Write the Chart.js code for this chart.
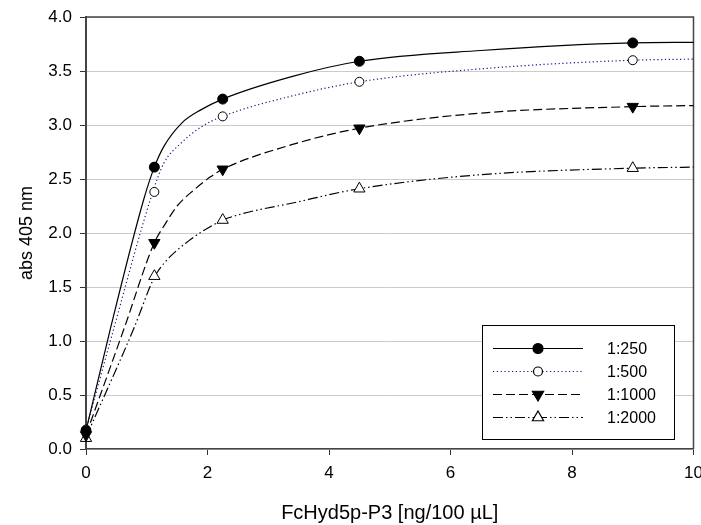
<!DOCTYPE html>
<html>
<head>
<meta charset="utf-8">
<title>abs 405 nm</title>
<script src="https://cdn.jsdelivr.net/npm/chart.js@4.4.0/dist/chart.umd.min.js"></script>
<style>
  html, body { margin: 0; background: #fff; }
  canvas { display: block; }
</style>
</head>
<body>
<canvas id="abs-chart" width="701" height="525"></canvas>
<script>
// measured points (dilution series)
const doses = [0, 1.125, 2.25, 4.5, 9];
const abs250 = [0.17, 2.61, 3.24, 3.59, 3.76];
const abs500 = [0.18, 2.38, 3.08, 3.40, 3.60];
const abs1000 = [0.13, 1.91, 2.59, 2.97, 3.17];
const abs2000 = [0.10, 1.60, 2.12, 2.41, 2.60];

// fitted curves
const fitX250 = [0, 0.4, 0.95, 1.125, 1.28, 1.58, 1.89, 2.25, 3.4, 4.5, 6.5, 9, 10];
const fit250 = [0.17, 1.11, 2.31, 2.61, 2.80, 3.02, 3.14, 3.24, 3.45, 3.59, 3.69, 3.76, 3.765];
const fitX500 = [0, 0.46, 1.06, 1.28, 1.56, 1.89, 2.25, 3.4, 4.5, 6.5, 9, 10];
const fit500 = [0.18, 1.12, 2.31, 2.645, 2.83, 2.98, 3.08, 3.27, 3.40, 3.52, 3.60, 3.61];
const fitX1000 = [0, 0.63, 1.125, 1.3, 1.5, 1.78, 2.05, 2.25, 3.4, 4.5, 6.5, 9, 10];
const fit1000 = [0.13, 1.12, 1.91, 2.08, 2.25, 2.40, 2.52, 2.59, 2.82, 2.97, 3.11, 3.17, 3.18];
const fitX2000 = [0, 0.79, 1.125, 1.3, 1.72, 2.08, 2.25, 3.5, 4.5, 6.5, 9, 10];
const fit2000 = [0.11, 1.12, 1.59, 1.73, 1.94, 2.07, 2.12, 2.29, 2.41, 2.54, 2.60, 2.61];

const seriesNames = ['1:250', '1:500', '1:1000', '1:2000'];
const xTitle = 'FcHyd5p-P3 [ng/100 µL]';
const yTitle = 'abs 405 nm';

const FONT = 'Arial, "Liberation Sans", sans-serif';

const measured = [abs250, abs500, abs1000, abs2000];
const fitXs = [fitX250, fitX500, fitX1000, fitX2000];
const fits = [fit250, fit500, fit1000, fit2000];

// line + marker look for each dilution
const looks = [
  { line: '#000', dash: [], marker: { pointStyle: 'circle', radius: 5, rotation: 0, fill: '#000' } },
  { line: '#14148c', dash: [1.2, 2.6], marker: { pointStyle: 'circle', radius: 4.5, rotation: 0, fill: '#fff' } },
  { line: '#000', dash: [9, 4], marker: { pointStyle: 'triangle', radius: 6.5, rotation: 180, fill: '#000' } },
  { line: '#000', dash: [10, 3, 1.5, 3, 1.5, 3], marker: { pointStyle: 'triangle', radius: 6.5, rotation: 0, fill: '#fff' } }
];

const pairs = (xs, ys) => xs.map((x, i) => ({ x: x, y: ys[i] }));

const datasets = [];
seriesNames.forEach((name, i) => {
  const lk = looks[i];
  datasets.push({
    label: name + ' fit',
    data: pairs(fitXs[i], fits[i]),
    showLine: true,
    borderColor: lk.line,
    borderWidth: 1.2,
    borderDash: lk.dash,
    pointRadius: 0,
    cubicInterpolationMode: 'monotone',
    clip: false,
    order: 1
  });
  datasets.push({
    label: name,
    data: pairs(doses, measured[i]),
    showLine: false,
    pointStyle: lk.marker.pointStyle,
    pointRadius: lk.marker.radius,
    pointRotation: lk.marker.rotation,
    pointBackgroundColor: lk.marker.fill,
    pointBorderColor: '#000',
    pointBorderWidth: 1,
    clip: false,
    order: 0
  });
});

// top/right frame lines of the plot box
const frame = {
  id: 'frame',
  beforeDatasetsDraw(chart) {
    const { ctx, chartArea: a } = chart;
    ctx.save();
    ctx.strokeStyle = '#444';
    ctx.lineWidth = 1.5;
    ctx.beginPath();
    ctx.moveTo(a.left, a.top);
    ctx.lineTo(a.right, a.top);
    ctx.lineTo(a.right, a.bottom);
    ctx.stroke();
    ctx.restore();
  }
};

// boxed legend in the lower right corner
const boxLegend = {
  id: 'boxLegend',
  afterDraw(chart) {
    const ctx = chart.ctx;
    const bx = 482, by = 325, bw = 192, bh = 114;
    ctx.save();
    ctx.fillStyle = '#fff';
    ctx.fillRect(bx, by, bw, bh);
    ctx.strokeStyle = '#000';
    ctx.lineWidth = 1;
    ctx.strokeRect(bx + 0.5, by + 0.5, bw, bh);
    seriesNames.forEach((name, i) => {
      const lk = looks[i];
      const y = by + 23.5 + i * 23;
      ctx.strokeStyle = lk.line;
      ctx.lineWidth = 1.2;
      ctx.setLineDash(lk.dash);
      ctx.beginPath();
      ctx.moveTo(493, y);
      ctx.lineTo(583, y);
      ctx.stroke();
      ctx.setLineDash([]);
      ctx.fillStyle = lk.marker.fill;
      ctx.strokeStyle = '#000';
      Chart.helpers.drawPoint(ctx, {
        pointStyle: lk.marker.pointStyle,
        radius: lk.marker.radius,
        rotation: lk.marker.rotation,
        borderWidth: 1
      }, 538, y);
      ctx.fillStyle = '#000';
      ctx.font = '16px ' + FONT;
      ctx.textBaseline = 'middle';
      ctx.textAlign = 'left';
      ctx.fillText(name, 607, y + 1);
    });
    ctx.restore();
  }
};

const context = document.getElementById('abs-chart').getContext('2d');
const chart = new Chart(context, {
  type: 'scatter',
  data: { datasets },
  options: {
    responsive: false,
    animation: false,
    devicePixelRatio: 1,
    layout: { padding: { top: 17, right: 7, left: 0, bottom: 0 } },
    plugins: { legend: { display: false }, tooltip: { enabled: false } },
    scales: {
      x: {
        type: 'linear',
        min: 0,
        max: 10,
        ticks: { stepSize: 2, color: '#000', padding: 8, font: { family: FONT, size: 17 } },
        grid: { drawOnChartArea: false, drawTicks: true, tickLength: 6, tickColor: '#333' },
        border: { color: '#444', width: 1.5 },
        title: { display: true, text: xTitle, color: '#000', font: { family: FONT, size: 20 }, padding: { top: 0, bottom: 0 } },
        afterFit(s) { s.height = 76; s.paddingLeft = 0; s.paddingRight = 0; }
      },
      y: {
        type: 'linear',
        min: 0,
        max: 4,
        ticks: { stepSize: 0.5, color: '#000', padding: 8, font: { family: FONT, size: 17 }, callback: v => v.toFixed(1) },
        grid: { color: '#cbcbcb', lineWidth: 1, tickLength: 6, tickColor: '#333' },
        border: { color: '#444', width: 2 },
        title: { display: true, text: yTitle, color: '#000', font: { family: FONT, size: 18 }, padding: { top: 16, bottom: 0 } },
        afterFit(s) { s.width = 86; s.paddingTop = 0; s.paddingBottom = 0; }
      }
    }
  },
  plugins: [frame, boxLegend]
});
</script>
</body>
</html>
